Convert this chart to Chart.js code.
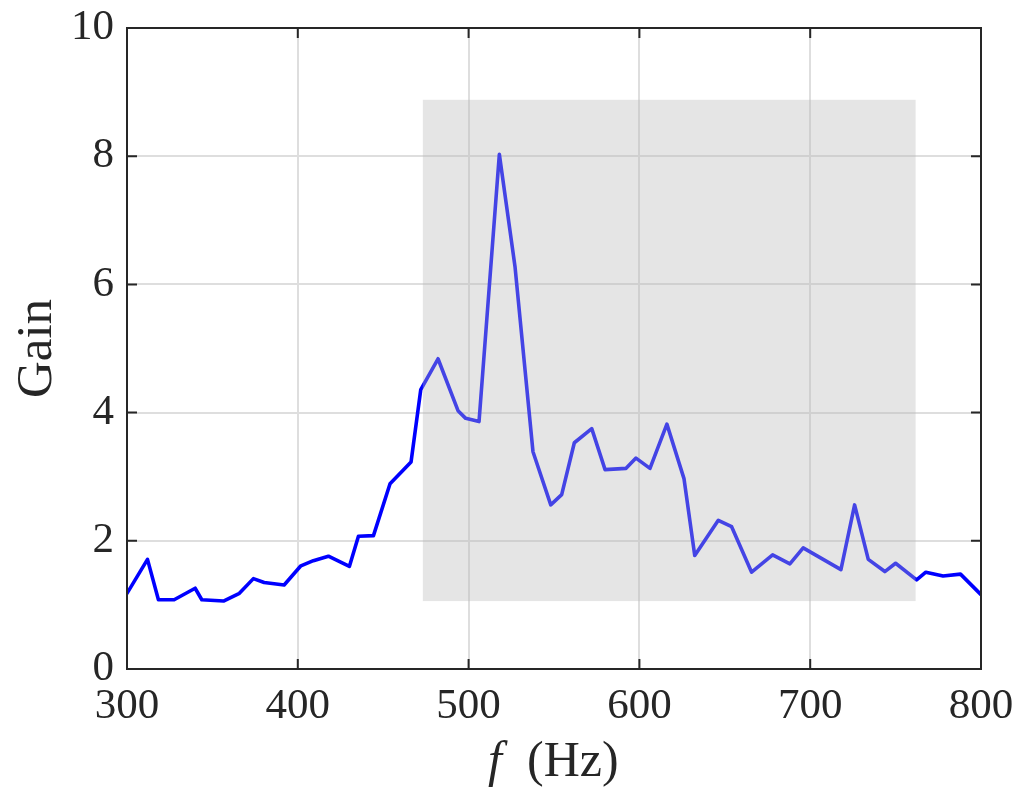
<!DOCTYPE html>
<html>
<head>
<meta charset="utf-8">
<style>
  html, body { margin: 0; padding: 0; background: #ffffff; }
  #wrap { width: 1021px; height: 789px; }
</style>
<script src="https://cdn.jsdelivr.net/npm/chart.js@4/dist/chart.umd.min.js"></script>
</head>
<body>
<div id="wrap"><canvas id="c" width="1021" height="789"></canvas></div>
<script>
// Measured gain response over frequency
const freqHz = [300, 312, 318.4, 327.6, 339.9, 343.8, 356.5, 365.8, 374, 380.3,
  392, 401.8, 409.1, 417.9, 430.2, 435.5, 444.3, 454, 466.3, 472,
  482.1, 493.8, 498.3, 506.1, 518, 527.2, 537.7, 548.1, 554.5, 561.9,
  572.1, 579.9, 592.2, 598, 606.2, 616.1, 626.1, 632.4, 646.2, 654,
  665.7, 678, 688.1, 695.9, 718, 726, 734, 743.7, 750, 762.3,
  767.7, 777.8, 788, 800];
const gain = [1.18, 1.71, 1.08, 1.08, 1.26, 1.08, 1.06, 1.18, 1.41, 1.35,
  1.31, 1.61, 1.69, 1.76, 1.60, 2.07, 2.08, 2.89, 3.23, 4.36,
  4.84, 4.03, 3.91, 3.86, 8.03, 6.27, 3.39, 2.56, 2.72, 3.53,
  3.75, 3.11, 3.13, 3.29, 3.13, 3.82, 2.97, 1.77, 2.32, 2.22,
  1.51, 1.78, 1.64, 1.89, 1.55, 2.56, 1.71, 1.52, 1.65, 1.39,
  1.51, 1.45, 1.48, 1.16];

// Axis ticks
const xTicks = [300, 400, 500, 600, 700, 800];
const yTicks = [0, 2, 4, 6, 8, 10];

// Highlighted frequency band (shaded box)
const bandHz = [473.2, 761.7];
const bandGain = [1.06, 8.88];

// Axis titles
const xTitleVar = 'f';
const xTitleUnit = '(Hz)';
const yTitle = 'Gain';

const AXIS_COLOR = '#262626';
const SERIF = '"Liberation Serif", "DejaVu Serif", serif';

// keep tick labels from pushing the plot frame inward
function noOverflow(s) {
  s.paddingTop = 0; s.paddingBottom = 0; s.paddingLeft = 0; s.paddingRight = 0;
}

const bandPlugin = {
  id: 'band',
  afterDatasetsDraw(chart) {
    const { ctx, scales: { x, y } } = chart;
    const x0 = x.getPixelForValue(bandHz[0]);
    const x1 = x.getPixelForValue(bandHz[1]);
    const y0 = y.getPixelForValue(bandGain[1]);
    const y1 = y.getPixelForValue(bandGain[0]);
    ctx.save();
    ctx.fillStyle = 'rgba(185,185,185,0.37)';
    ctx.fillRect(x0, y0, x1 - x0, y1 - y0);
    ctx.restore();
  }
};

const framePlugin = {
  id: 'frame',
  afterDraw(chart) {
    const { ctx, chartArea: a, scales: { x, y } } = chart;
    const tick = 10;
    ctx.save();
    ctx.strokeStyle = AXIS_COLOR;
    ctx.lineWidth = 2;
    ctx.lineCap = 'butt';
    // inward tick marks on all four sides
    ctx.beginPath();
    xTicks.forEach(v => {
      const px = x.getPixelForValue(v);
      ctx.moveTo(px, a.bottom); ctx.lineTo(px, a.bottom - tick);
      ctx.moveTo(px, a.top); ctx.lineTo(px, a.top + tick);
    });
    yTicks.forEach(v => {
      const py = y.getPixelForValue(v);
      ctx.moveTo(a.left, py); ctx.lineTo(a.left + tick, py);
      ctx.moveTo(a.right, py); ctx.lineTo(a.right - tick, py);
    });
    ctx.stroke();
    // box
    ctx.strokeRect(a.left, a.top, a.right - a.left, a.bottom - a.top);

    // axis titles
    ctx.fillStyle = AXIS_COLOR;
    ctx.textBaseline = 'alphabetic';
    const cx = (a.left + a.right) / 2;
    const baseY = 776;
    ctx.font = 'italic 50px ' + SERIF;
    ctx.textAlign = 'center';
    ctx.fillText(xTitleVar, cx - 59, baseY);
    ctx.font = '50px ' + SERIF;
    ctx.textAlign = 'left';
    ctx.fillText(xTitleUnit, cx - 27, baseY);

    ctx.translate(51, (a.top + a.bottom) / 2);
    ctx.rotate(-Math.PI / 2);
    ctx.textAlign = 'center';
    ctx.font = '51px ' + SERIF;
    ctx.fillText(yTitle, 0, 0);
    ctx.restore();
  }
};

new Chart(document.getElementById('c'), {
  type: 'line',
  data: {
    datasets: [{
      data: freqHz.map((f, i) => ({ x: f, y: gain[i] })),
      borderColor: '#0000ff',
      borderWidth: 3.6,
      borderJoinStyle: 'round',
      borderCapStyle: 'round',
      pointRadius: 0,
      tension: 0,
      fill: false
    }]
  },
  options: {
    responsive: false,
    animation: false,
    devicePixelRatio: 1,
    layout: { padding: { left: 0, top: 28, right: 40, bottom: 0 } },
    plugins: { legend: { display: false }, tooltip: { enabled: false } },
    scales: {
      x: {
        type: 'linear',
        min: 300, max: 800,
        afterBuildTicks: s => { s.ticks = xTicks.map(v => ({ value: v })); },
        afterFit: s => { s.height = 120; noOverflow(s); },
        grid: { color: '#dedede', lineWidth: 2, drawTicks: false },
        border: { display: false },
        ticks: {
          color: AXIS_COLOR, padding: 12, maxRotation: 0,
          font: { family: SERIF, size: 43 }
        }
      },
      y: {
        type: 'linear',
        min: 0, max: 10,
        afterBuildTicks: s => { s.ticks = yTicks.map(v => ({ value: v })); },
        afterFit: s => { s.width = 127; noOverflow(s); },
        grid: { color: '#dedede', lineWidth: 2, drawTicks: false },
        border: { display: false },
        ticks: {
          color: AXIS_COLOR, padding: 13,
          font: { family: SERIF, size: 43 }
        }
      }
    }
  },
  plugins: [bandPlugin, framePlugin]
});
</script>
</body>
</html>
